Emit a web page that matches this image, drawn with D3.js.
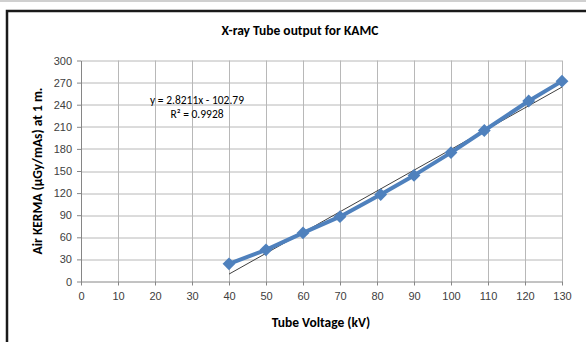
<!DOCTYPE html>
<html>
<head>
<meta charset="UTF-8">
<title>X-ray Tube output for KAMC</title>
<script src="https://cdn.jsdelivr.net/npm/d3@7/dist/d3.min.js"></script>
<style>
  body { margin: 0; background: #fff; }
  svg { display: block; font-family: Carlito, Lato, "Liberation Sans", sans-serif; }
  .grid line { stroke: #b8b8b8; stroke-width: 1px; }
  .axis path, .axis line { stroke: #868686; }
  .axis text { fill: #404040; font-size: 11px; }
</style>
</head>
<body>
<svg width="586" height="342"></svg>
<script>
var voltage = [40, 50, 60, 70, 81, 90, 100, 109, 121, 130];
var kerma   = [24, 43, 66, 88, 118, 144, 175, 205, 245, 272];
var xTicks = d3.range(0, 131, 10);
var yTicks = d3.range(0, 301, 30);
var fitSlope = 2.8211, fitIntercept = -102.79;
var fitLabels = ['y = 2.8211x - 102.79', 'R\u00b2 = 0.9928'];

var svg = d3.select('svg');

// excel-ish frame
svg.append('line').attr('x1', 0).attr('x2', 586).attr('y1', 1).attr('y2', 1)
   .attr('stroke', '#d0d0d0').attr('stroke-width', 2);
svg.append('rect').attr('x', 7).attr('y', 11).attr('width', 600).attr('height', 360)
   .attr('fill', '#fff').attr('stroke', '#1a1a1a').attr('stroke-width', 2.5);

var margin = { left: 81, top: 60.5 },
    width = 562 - 81,
    height = 281.5 - 60.5;

var g = svg.append('g').attr('transform', 'translate(' + margin.left + ',' + margin.top + ')');

var x = d3.scaleLinear().domain([0, 130]).range([0, width]);
var y = d3.scaleLinear().domain([0, 300]).range([height, 0]);

// gridlines
g.append('g').attr('class', 'grid')
  .selectAll('line.h').data(yTicks.slice(1)).enter().append('line')
  .attr('x1', 0).attr('x2', width)
  .attr('y1', d => Math.round(y(d)) + 0.5).attr('y2', d => Math.round(y(d)) + 0.5);
g.append('g').attr('class', 'grid')
  .selectAll('line.v').data(xTicks.slice(1)).enter().append('line')
  .attr('y1', 0).attr('y2', height)
  .attr('x1', d => Math.round(x(d)) + 0.5).attr('x2', d => Math.round(x(d)) + 0.5);

g.append('g').attr('class', 'axis')
  .attr('transform', 'translate(0,' + height + ')')
  .call(d3.axisBottom(x).tickValues(xTicks).tickSize(4).tickPadding(7).tickSizeOuter(0));
g.append('g').attr('class', 'axis')
  .call(d3.axisLeft(y).tickValues(yTicks).tickSize(4).tickPadding(5).tickSizeOuter(0));

// trend line
var x0 = d3.min(voltage), x1 = d3.max(voltage);
g.append('line')
  .attr('x1', x(x0)).attr('y1', y(fitSlope * x0 + fitIntercept))
  .attr('x2', x(x1)).attr('y2', y(fitSlope * x1 + fitIntercept))
  .attr('stroke', '#404040').attr('stroke-width', 1);

var pts = voltage.map((v, i) => ({ v: v, k: kerma[i] }));

var line = d3.line().x(d => x(d.v)).y(d => y(d.k));
g.append('path').datum(pts)
  .attr('d', line)
  .attr('fill', 'none')
  .attr('stroke', '#4f81bd')
  .attr('stroke-width', 4)
  .attr('stroke-linejoin', 'round');

g.selectAll('.pt').data(pts).enter().append('path')
  .attr('class', 'pt')
  .attr('d', d3.symbol().type(d3.symbolDiamond2).size(105))
  .attr('transform', d => 'translate(' + x(d.v) + ',' + y(d.k) + ')')
  .attr('fill', '#4f81bd');

// equation label
svg.selectAll('.eq').data(fitLabels).enter().append('text')
  .attr('class', 'eq')
  .attr('x', 197).attr('y', (d, i) => 104 + i * 14)
  .attr('text-anchor', 'middle')
  .style('font-size', '11.5px')
  .attr('fill', '#000')
  .text(d => d);

svg.append('text').attr('x', 300).attr('y', 35)
  .attr('text-anchor', 'middle')
  .style('font-size', '13.5px').style('font-weight', 'bold')
  .text('X-ray Tube output for KAMC');

svg.append('text').attr('x', 321).attr('y', 327)
  .attr('text-anchor', 'middle')
  .style('font-size', '13.5px').style('font-weight', 'bold')
  .text('Tube Voltage (kV)');

svg.append('text')
  .attr('transform', 'translate(42,171) rotate(-90)')
  .attr('text-anchor', 'middle')
  .style('font-size', '13.5px').style('font-weight', 'bold')
  .text('Air KERMA (\u00b5Gy/mAs) at 1 m.');
</script>
</body>
</html>
